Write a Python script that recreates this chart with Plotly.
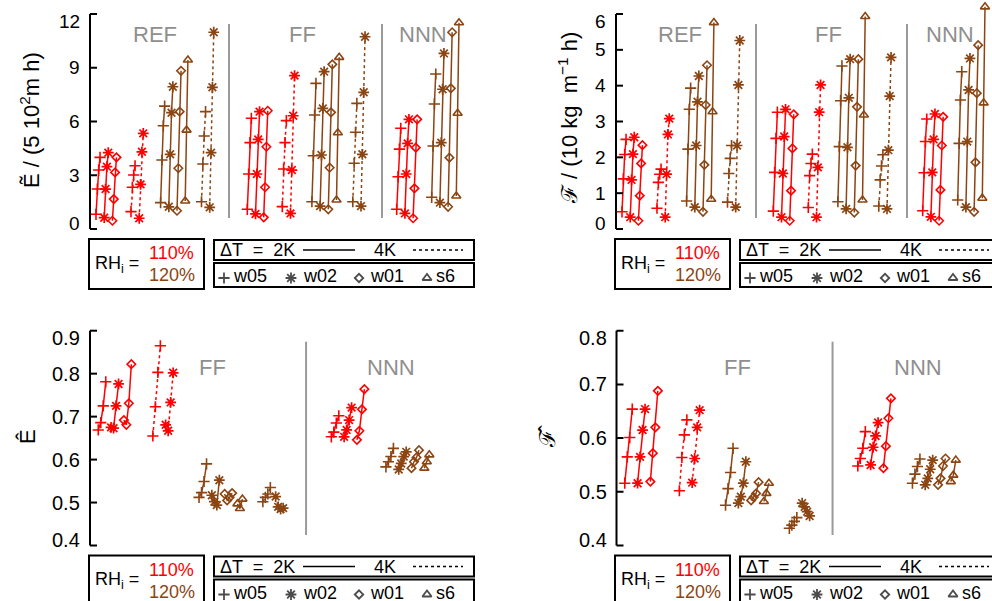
import plotly.graph_objects as go

W, H = 992, 601
RED = '#FF0000'
BROWN = '#8B4513'
GRAY = '#8f8f8f'
FONT = 'Liberation Sans, Arial, sans-serif'

# ---------------- data ----------------
# groups: r2 = RH 110% dT 2K (solid), r4 = RH 110% dT 4K (dotted),
#         b2 = RH 120% dT 2K (solid), b4 = RH 120% dT 4K (dotted)
# series order inside a group: w05, w02, w01, s6

# Panel a: E-tilde
Et_REF_r2 = [[0.82, 2.23, 3.29, 4.00], [0.63, 2.23, 3.48, 4.26], [0.46, 1.67, 3.16, 4.00]]
Et_REF_r4 = [[0.97, 2.33, 3.01, 3.53], [0.60, 2.49, 4.31, 5.34]]
Et_REF_b2 = [[1.47, 3.85, 5.76, 6.86], [1.24, 4.17, 6.49, 7.94], [1.02, 3.39, 6.55, 8.83], [1.56, 5.52, 9.43]]
Et_REF_b4 = [[1.52, 3.63, 5.19, 6.55], [1.21, 4.26, 7.91, 10.98]]
Et_FF_r2 = [[1.10, 3.07, 4.82, 6.18], [0.84, 3.07, 5.00, 6.55], [0.65, 2.33, 4.59, 6.60]]
Et_FF_r4 = [[1.25, 3.35, 4.82, 6.05], [0.87, 3.29, 6.32, 8.56]]
Et_FF_b2 = [[1.52, 4.09, 6.36, 8.13], [1.28, 4.13, 6.73, 8.78], [1.10, 3.42, 6.51, 9.19], [1.62, 5.37, 9.58]]
Et_FF_b4 = [[1.52, 3.67, 5.40, 7.01], [1.28, 4.17, 7.63, 10.73]]
Et_NNN_r2 = [[1.10, 2.92, 4.46, 5.62], [0.87, 3.07, 4.78, 6.12], [0.60, 2.27, 4.54, 6.12]]
Et_NNN_b2 = [[1.77, 4.63, 6.98, 8.65], [1.47, 4.82, 7.80, 9.80], [1.24, 3.98, 7.85, 10.98], [1.84, 6.46, 11.51]]

# Panel b: F-tilde
Ft_REF_r2 = [[0.48, 1.40, 2.08, 2.50], [0.33, 1.37, 2.09, 2.56], [0.23, 0.93, 1.83, 2.34]]
Ft_REF_r4 = [[0.58, 1.30, 1.53, 1.67], [0.33, 1.53, 2.64, 3.08]]
Ft_REF_b2 = [[0.78, 2.23, 3.34, 3.93], [0.61, 2.33, 3.55, 4.27], [0.48, 1.79, 3.46, 4.57], [0.83, 3.27, 5.76]]
Ft_REF_b4 = [[0.75, 1.55, 1.97, 2.33], [0.61, 2.33, 4.02, 5.26]]
Ft_FF_r2 = [[0.50, 1.58, 2.53, 3.26], [0.33, 1.55, 2.58, 3.34], [0.23, 1.07, 2.25, 3.20]]
Ft_FF_r4 = [[0.60, 1.49, 1.83, 2.09], [0.33, 1.72, 3.26, 4.02]]
Ft_FF_b2 = [[0.76, 2.30, 3.58, 4.55], [0.56, 2.28, 3.66, 4.74], [0.46, 1.77, 3.41, 4.74], [0.81, 3.18, 5.93]]
Ft_FF_b4 = [[0.64, 1.37, 1.76, 2.07], [0.56, 2.20, 3.71, 4.79]]
Ft_NNN_r2 = [[0.51, 1.57, 2.44, 3.07], [0.34, 1.58, 2.50, 3.21], [0.23, 1.09, 2.33, 3.13]]
Ft_NNN_b2 = [[0.81, 2.39, 3.60, 4.39], [0.61, 2.44, 3.88, 4.76], [0.48, 1.86, 3.79, 5.13], [0.86, 3.52, 6.20]]

# Panel c: E-hat
Eh_FF_r2 = [[0.669, 0.686, 0.725, 0.781], [0.675, 0.673, 0.725, 0.776], [0.692, 0.681, 0.731, 0.822]]
Eh_FF_r4 = [[0.655, 0.723, 0.803, 0.865], [0.681, 0.667, 0.733, 0.802]]
Eh_FF_b2 = [[0.512, 0.523, 0.549, 0.590], [0.517, 0.502, 0.494, 0.552], [0.520, 0.505, 0.512, 0.522], [0.497, 0.486, 0.508]]
Eh_FF_b4 = [[0.502, 0.512, 0.520, 0.535], [0.514, 0.490, 0.485, 0.487]]
Eh_NNN_r2 = [[0.653, 0.664, 0.685, 0.702], [0.653, 0.669, 0.692, 0.721], [0.646, 0.667, 0.717, 0.764]]
Eh_NNN_b2 = [[0.583, 0.595, 0.607, 0.626], [0.577, 0.591, 0.607, 0.618], [0.580, 0.595, 0.605, 0.622], [0.580, 0.595, 0.611]]

# Panel d: F-hat
Fh_FF_r2 = [[0.516, 0.565, 0.601, 0.654], [0.516, 0.565, 0.615, 0.654], [0.519, 0.572, 0.620, 0.688]]
Fh_FF_r4 = [[0.502, 0.564, 0.606, 0.634], [0.517, 0.562, 0.620, 0.652]]
Fh_FF_b2 = [[0.475, 0.506, 0.536, 0.581], [0.479, 0.491, 0.516, 0.556], [0.484, 0.490, 0.497, 0.518], [0.482, 0.497, 0.516]]
Fh_FF_b4 = [[0.432, 0.438, 0.445, 0.452], [0.479, 0.472, 0.463, 0.455]]
Fh_NNN_r2 = [[0.548, 0.562, 0.581, 0.612], [0.550, 0.583, 0.604, 0.629], [0.544, 0.585, 0.637, 0.674]]
Fh_NNN_b2 = [[0.516, 0.533, 0.547, 0.561], [0.513, 0.525, 0.542, 0.559], [0.513, 0.525, 0.548, 0.562], [0.519, 0.531, 0.559]]

# tick values / labels
Et_ticks = [0, 3, 6, 9, 12]
Et_ticklabels = ['0', '3', '6', '9', '12']
Ft_ticks = [0, 1, 2, 3, 4, 5, 6]
Ft_ticklabels = ['0', '1', '2', '3', '4', '5', '6']
Eh_ticks = [0.4, 0.5, 0.6, 0.7, 0.8, 0.9]
Eh_ticklabels = ['0.4', '0.5', '0.6', '0.7', '0.8', '0.9']
Fh_ticks = [0.4, 0.5, 0.6, 0.7, 0.8]
Fh_ticklabels = ['0.4', '0.5', '0.6', '0.7', '0.8']

SERIES = ['w05', 'w02', 'w01', 's6']
GROUPS = ['r2', 'r4', 'b2', 'b4']

# ---------------- layout constants ----------------
exp_start = {'REF': 6.0, 'FF': 157.3, 'NNN': 306.7}
slot_start = [0.0, 35.0, 64.6, 105.5]
series_gap = 8.2
group_style = {'r2': (RED, 'solid'), 'r4': (RED, 'dot'), 'b2': (BROWN, 'solid'), 'b4': (BROWN, 'dot')}
marker_spec = {'w05': ('cross-thin', 8, 1.6), 'w02': ('asterisk', 9, 1.7),
               'w01': ('diamond-open', 6.5, 1.6), 's6': ('triangle-up-open', 8, 1.6)}

panels = [
    dict(data={'REF': {'r2': Et_REF_r2, 'r4': Et_REF_r4, 'b2': Et_REF_b2, 'b4': Et_REF_b4},
               'FF': {'r2': Et_FF_r2, 'r4': Et_FF_r4, 'b2': Et_FF_b2, 'b4': Et_FF_b4},
               'NNN': {'r2': Et_NNN_r2, 'b2': Et_NNN_b2}},
         axis_px=90, right_px=505, top_px=0, bot_px=238, vlo=0, plo=229, vhi=12, phi=14,
         d0=0.0, scale=1.0, step=1.35, ticks=Et_ticks, ticklabels=Et_ticklabels, tfont=19,
         title='Ẽ / (5 10<sup>2</sup>m h)', title_pos=(30, 120),
         labels=['REF', 'FF', 'NNN'], label_x=[65, 212, 333], label_y=35,
         seps=[139, 292], sep_y=(24, 218), ldx=0, ldy=0),
    dict(data={'REF': {'r2': Ft_REF_r2, 'r4': Ft_REF_r4, 'b2': Ft_REF_b2, 'b4': Ft_REF_b4},
               'FF': {'r2': Ft_FF_r2, 'r4': Ft_FF_r4, 'b2': Ft_FF_b2, 'b4': Ft_FF_b4},
               'NNN': {'r2': Ft_NNN_r2, 'b2': Ft_NNN_b2}},
         axis_px=616, right_px=992, top_px=0, bot_px=238, vlo=0, plo=229, vhi=6, phi=14,
         d0=0.0, scale=1.0, step=1.35, ticks=Ft_ticks, ticklabels=Ft_ticklabels, tfont=19,
         title='ℱ / (10 kg  m<sup>−1</sup> h)', title_pos=(568, 118),
         labels=['REF', 'FF', 'NNN'], label_x=[64, 212, 334], label_y=35,
         seps=[140, 291], sep_y=(24, 218), ldx=526, ldy=0),
    dict(data={'FF': {'r2': Eh_FF_r2, 'r4': Eh_FF_r4, 'b2': Eh_FF_b2, 'b4': Eh_FF_b4},
               'NNN': {'r2': Eh_NNN_r2, 'b2': Eh_NNN_b2}},
         axis_px=90, right_px=505, top_px=300, bot_px=553, vlo=0.4, plo=545.5, vhi=0.9, phi=330.7,
         d0=152.0, scale=1.56, step=1.6, ticks=Eh_ticks, ticklabels=Eh_ticklabels, tfont=20,
         title='Ê', title_pos=(27, 437),
         labels=['FF', 'NNN'], label_x=[230.5, 345.2], label_y=367,
         seps=[290.5], sep_y=(341.7, 535), ldx=0, ldy=316.5),
    dict(data={'FF': {'r2': Fh_FF_r2, 'r4': Fh_FF_r4, 'b2': Fh_FF_b2, 'b4': Fh_FF_b4},
               'NNN': {'r2': Fh_NNN_r2, 'b2': Fh_NNN_b2}},
         axis_px=616.5, right_px=992, top_px=300, bot_px=553, vlo=0.4, plo=545.5, vhi=0.8, phi=330.7,
         d0=152.0, scale=1.56, step=1.6, ticks=Fh_ticks, ticklabels=Fh_ticklabels, tfont=20,
         title='ℱ̂', title_pos=(547, 437),
         labels=['FF', 'NNN'], label_x=[229.8, 345.1], label_y=367,
         seps=[290.5], sep_y=(341.7, 535), ldx=526, ldy=316.5),
]

fig = go.Figure()
layout = dict(width=W, height=H, margin=dict(l=0, r=0, t=0, b=0),
              paper_bgcolor='white', plot_bgcolor='rgba(0,0,0,0)', showlegend=False,
              font=dict(family=FONT, color='black', size=18))
shapes = []
annotations = []


def px(x):
    return x / W


def py(y):
    return 1 - y / H


for pi, P in enumerate(panels, start=1):
    sfx = '' if pi == 1 else str(pi)
    xa, ya = 'x' + sfx, 'y' + sfx
    left_px = P['axis_px'] - 12
    s = P['scale']
    xr = [P['d0'] - 12 / s, P['d0'] + (P['right_px'] - P['axis_px']) / s]
    k = (P['phi'] - P['plo']) / (P['vhi'] - P['vlo'])
    yr = [P['vlo'] + (P['bot_px'] - P['plo']) / k, P['vlo'] + (P['top_px'] - P['plo']) / k]
    layout['xaxis' + sfx] = dict(domain=[px(left_px), min(1.0, px(P['right_px']))], range=xr,
                                 visible=False, fixedrange=True, anchor=ya)
    layout['yaxis' + sfx] = dict(domain=[py(P['bot_px']), py(P['top_px'])], range=yr,
                                 visible=False, fixedrange=True, anchor=xa)

    # data traces
    for exp, groups in P['data'].items():
        present = [g for g in GROUPS if g in groups]
        for slot, g in enumerate(present):
            col, dash = group_style[g]
            for i, vals in enumerate(groups[g]):
                name = SERIES[i]
                base = exp_start[exp] + slot_start[slot] + i * series_gap
                xs = [base + j * P['step'] for j in range(len(vals))]
                sym, size, lw = marker_spec[name]
                fig.add_trace(go.Scatter(
                    x=xs, y=vals, xaxis=xa, yaxis=ya, mode='lines+markers',
                    line=dict(color=col, width=1.5, dash=dash),
                    marker=dict(symbol=sym, size=size, color=col, line=dict(color=col, width=lw)),
                    name=f'{exp} {g} {name}', hoverinfo='skip'))

    # y axis bracket + ticks
    shapes.append(dict(type='line', xref=xa, yref=ya, x0=P['d0'], x1=P['d0'],
                       y0=P['vlo'], y1=P['vhi'], line=dict(color='black', width=2)))
    for t, lab in zip(P['ticks'], P['ticklabels']):
        shapes.append(dict(type='line', xref=xa, yref=ya, x0=P['d0'], x1=P['d0'] + 7 / s,
                           y0=t, y1=t, line=dict(color='black', width=2)))
        ys = 0
        if t == P['ticks'][-1]:
            ys = -7
        elif t == P['ticks'][0]:
            ys = 6
        annotations.append(dict(xref='paper', yref=ya, x=px(P['axis_px'] - 8), y=t, yshift=ys,
                                text=lab, showarrow=False, xanchor='right', yanchor='middle',
                                font=dict(size=P['tfont'], color='black', family=FONT)))
    # y title
    tx, ty = P['title_pos']
    annotations.append(dict(xref='paper', yref='paper', x=px(tx), y=py(ty), text=P['title'],
                            textangle=-90, showarrow=False, xanchor='center', yanchor='middle',
                            font=dict(size=22, color='black', family=FONT)))
    # group labels
    for lab, lx in zip(P['labels'], P['label_x']):
        annotations.append(dict(xref=xa, yref='paper', x=lx, y=py(P['label_y']), text=lab,
                                showarrow=False, xanchor='center', yanchor='middle',
                                font=dict(size=22, color=GRAY, family=FONT)))
    # separators
    for sx in P['seps']:
        shapes.append(dict(type='line', xref=xa, yref='paper', x0=sx, x1=sx,
                           y0=py(P['sep_y'][0]), y1=py(P['sep_y'][1]),
                           line=dict(color='#9a9a9a', width=2)))

    # legend boxes
    dx, dy = P['ldx'], P['ldy']

    def rect(x0, y0, x1, y1):
        shapes.append(dict(type='rect', xref='paper', yref='paper',
                           x0=px(x0 + dx), x1=px(x1 + dx), y0=py(y0 + dy), y1=py(y1 + dy),
                           line=dict(color='black', width=2), fillcolor='rgba(0,0,0,0)'))

    def txt(x, y, t, color='black', size=18):
        annotations.append(dict(xref='paper', yref='paper', x=px(x + dx), y=py(y + dy), text=t,
                                showarrow=False, xanchor='left', yanchor='middle',
                                font=dict(size=size, color=color, family=FONT)))

    rect(89, 239, 204, 289)
    rect(214, 240, 474, 260)
    rect(214, 263, 474, 287)
    txt(93, 264, 'RH<sub>i</sub> =')
    txt(147, 253, '110%', RED)
    txt(147, 275, '120%', BROWN)
    txt(218, 250, 'ΔT  =  2K')
    shapes.append(dict(type='line', xref='paper', yref='paper', x0=px(303 + dx), x1=px(355 + dx),
                       y0=py(250 + dy), y1=py(250 + dy), line=dict(color='black', width=1.5)))
    txt(372, 250, '4K')
    shapes.append(dict(type='line', xref='paper', yref='paper', x0=px(413 + dx), x1=px(463 + dx),
                       y0=py(250 + dy), y1=py(250 + dy), line=dict(color='black', width=1.5, dash='dot')))
    leg_x = [224, 291, 359, 427]
    txt_x = [231, 301, 368, 434]
    fig.add_trace(go.Scatter(
        x=[lx + dx for lx in leg_x], y=[278 + dy] * 4, xaxis='x5', yaxis='y5', mode='markers',
        marker=dict(symbol=[marker_spec[n][0] for n in SERIES], size=[8, 9, 6.5, 8], color='black',
                    line=dict(color='black', width=[1.8, 1.8, 1.8, 1.8])), hoverinfo='skip'))
    for n, tx_ in zip(SERIES, txt_x):
        txt(tx_, 276, n)

layout['xaxis5'] = dict(domain=[0, 1], range=[0, W], visible=False, fixedrange=True, anchor='y5')
layout['yaxis5'] = dict(domain=[0, 1], range=[H, 0], visible=False, fixedrange=True, anchor='x5')
layout['shapes'] = shapes
layout['annotations'] = annotations
fig.update_layout(**layout)
fig.write_html('out.html')
